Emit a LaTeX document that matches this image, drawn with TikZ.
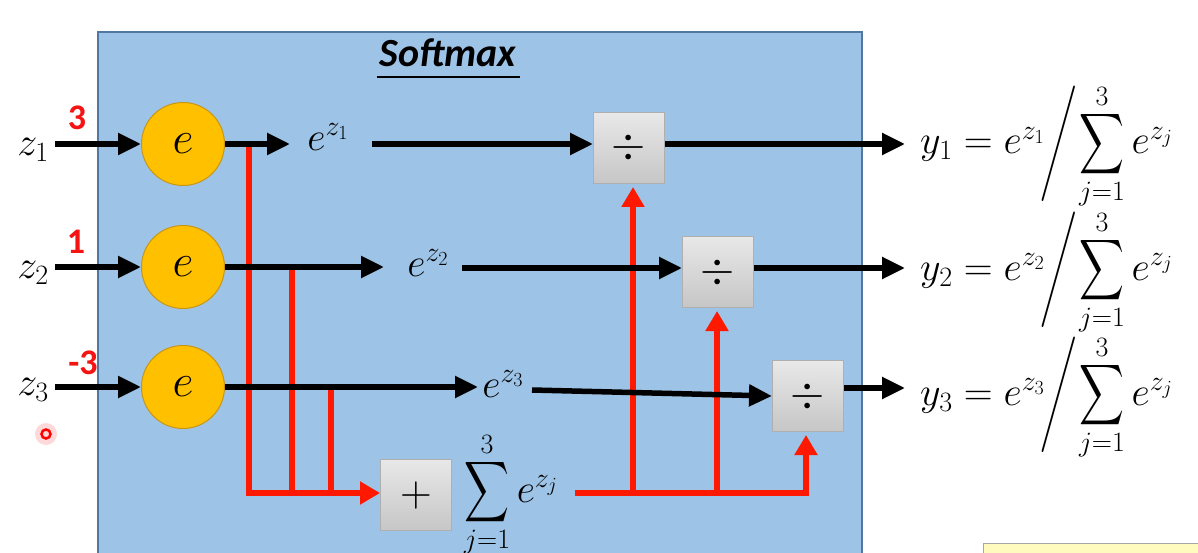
\RequirePackage{fix-cm}
\documentclass[tikz,border=0pt]{standalone}
\usepackage{exscale}
\usepackage{fontspec}
\newfontfamily\carlito{Carlito}
\usetikzlibrary{arrows.meta}
\newcommand\bigsum{\mathop{\vcenter{\hbox{\scalebox{1.25}[1.7]{$\displaystyle\sum$}}}}\limits}
\newcommand\bigslash{\mathord{\mskip-2mu\vcenter{\hbox{\scalebox{1.15}[1.55]{$\Bigg/$}}}\mskip-2mu}}
\definecolor{bluebg}{RGB}{157,195,230}
\definecolor{blueedge}{RGB}{80,120,160}
\definecolor{circfill}{RGB}{255,192,0}
\definecolor{circdraw}{RGB}{200,150,20}
\definecolor{boxtop}{RGB}{232,232,232}
\definecolor{boxbot}{RGB}{198,198,198}
\definecolor{boxdraw}{RGB}{175,175,175}
\definecolor{redc}{RGB}{255,25,0}
\definecolor{rednum}{RGB}{245,20,20}
\definecolor{stickyfill}{RGB}{255,250,190}
\begin{document}
\begin{tikzpicture}[x=1pt,y=-1pt,
  mth/.style={inner sep=0pt, font=\fontsize{40}{44}\selectfont},
  circ/.style={circle, minimum size=83pt, inner sep=0pt, fill=circfill, draw=circdraw, line width=1pt, font=\fontsize{46}{50}\selectfont},
  opbox/.style={rectangle, minimum width=71pt, minimum height=71pt, inner sep=0pt, top color=boxtop, bottom color=boxbot, draw=boxdraw, line width=1pt, font=\fontsize{44}{48}\selectfont},
  blk/.style={line width=5.5pt, -{Triangle[length=23pt,width=21pt]}},
  redl/.style={draw=redc, line width=6.5pt},
  reda/.style={redl, -{Triangle[length=20pt,width=22pt]}},
  num/.style={inner sep=0pt, text=rednum, font=\carlito\bfseries\fontsize{36}{40}\selectfont},
  titlestyle/.style={inner sep=0pt, font=\carlito\bfseries\itshape\fontsize{40}{44}\selectfont}
]
\useasboundingbox (0,0) rectangle (1198,553);
\clip (0,0) rectangle (1198,553);
\fill[white] (0,0) rectangle (1198,553);
% blue panel
\draw[fill=bluebg, draw=blueedge, line width=1.5pt] (98,32) rectangle (862,575);
% title
\node[titlestyle, anchor=base] (title) at (448,67) {Softmax};
\draw[line width=2.5pt] ([yshift=-10pt,xshift=-3pt]title.base west) -- ([yshift=-10pt,xshift=3pt]title.base east);

% exponential nodes
\node[circ] (c1) at (183,144) {$e$};
\node[circ] (c2) at (183,267) {$e$};
\node[circ] (c3) at (183,387) {$e$};

% inputs
\node[mth, anchor=base east] (z1) at (49,156) {$z_1$};
\node[mth, anchor=base east] (z2) at (49,278) {$z_2$};
\node[mth, anchor=base east] (z3) at (49,395) {$z_3$};
\node[num] (n1) at (77,118) {3};
\node[num] (n2) at (76,242) {1};
\node[num] (n3) at (83,363) {-3};

% intermediate labels
\node[mth] (e1) at (328,137) {$e^{z_1}$};
\node[mth] (e2) at (428,263) {$e^{z_2}$};
\node[mth] (e3) at (503,384) {$e^{z_3}$};

% operator boxes
\node[opbox] (d1) at (629,148) {$\div$};
\node[opbox] (d2) at (718,272) {$\div$};
\node[opbox] (d3) at (808,396) {$\div$};
\node[opbox] (p) at (416,495) {$+$};
\node[mth, anchor=base west] (sum) at (464,502) {$\bigsum_{j=1}^{3} e^{z_j}$};

% coordinates
\coordinate (a1) at (55,144);
\coordinate (a2) at (55,267);
\coordinate (a3) at (55,387);
\coordinate (t1) at (290,144);
\coordinate (t2) at (384,267);
\coordinate (t3) at (478,387);
\coordinate (s1) at (372,144);
\coordinate (s2) at (462,268);
\coordinate (s3) at (532,390);
\coordinate (o1) at (905,144);
\coordinate (o2) at (905,268);
\coordinate (o3) at (905,388);
\coordinate (j1) at (249,144);
\coordinate (j2) at (292,267);
\coordinate (j3) at (331,387);
\coordinate (b1) at (249,493);
\coordinate (b2) at (292,493);
\coordinate (b3) at (331,493);
\coordinate (q0) at (575,493);
\coordinate (q1) at (633,493);
\coordinate (q2) at (717,493);
\coordinate (q3) at (806,493);

% red summation wiring
\draw[reda] (j1) -- (b1) -- (b1 -| p.west);
\draw[redl] (j2) -- (b2);
\draw[redl] (j3) -- (b3);
\draw[reda, shorten >=3pt] (q0) -- (q3) -- (q3 |- d3.south);
\draw[reda, shorten >=3pt] (q1) -- (q1 |- d1.south);
\draw[reda, shorten >=3pt] (q2) -- (q2 |- d2.south);

% black signal wiring
\draw[blk] (a1) -- (c1.west);
\draw[blk] (a2) -- (c2.west);
\draw[blk] (a3) -- (c3.west);
\draw[blk] (c1.east) -- (t1);
\draw[blk] (c2.east) -- (t2);
\draw[blk] (c3.east) -- (t3);
\draw[blk] (s1) -- (s1 -| d1.west);
\draw[blk] (s2) -- (s2 -| d2.west);
\draw[blk] (s3) -- (d3.west);
\draw[blk] (d1.east |- o1) -- (o1);
\draw[blk] (d2.east |- o2) -- (o2);
\draw[blk] (d3.east |- o3) -- (o3);

% outputs
\node[mth, anchor=base west] (y1) at (920,154) {$y_1 = e^{z_1}\bigslash\bigsum_{j=1}^{3} e^{z_j}$};
\node[mth, anchor=base west] (y2) at (920,280) {$y_2 = e^{z_2}\bigslash\bigsum_{j=1}^{3} e^{z_j}$};
\node[mth, anchor=base west] (y3) at (920,405) {$y_3 = e^{z_3}\bigslash\bigsum_{j=1}^{3} e^{z_j}$};

% screen artefacts
\fill[red!15] (46,434) circle (11);
\draw[red, line width=2.5pt] (46,434) circle (4.5);
\draw[fill=stickyfill, draw=gray!70, line width=1pt] (983,543) rectangle (1215,575);
\end{tikzpicture}
\end{document}
